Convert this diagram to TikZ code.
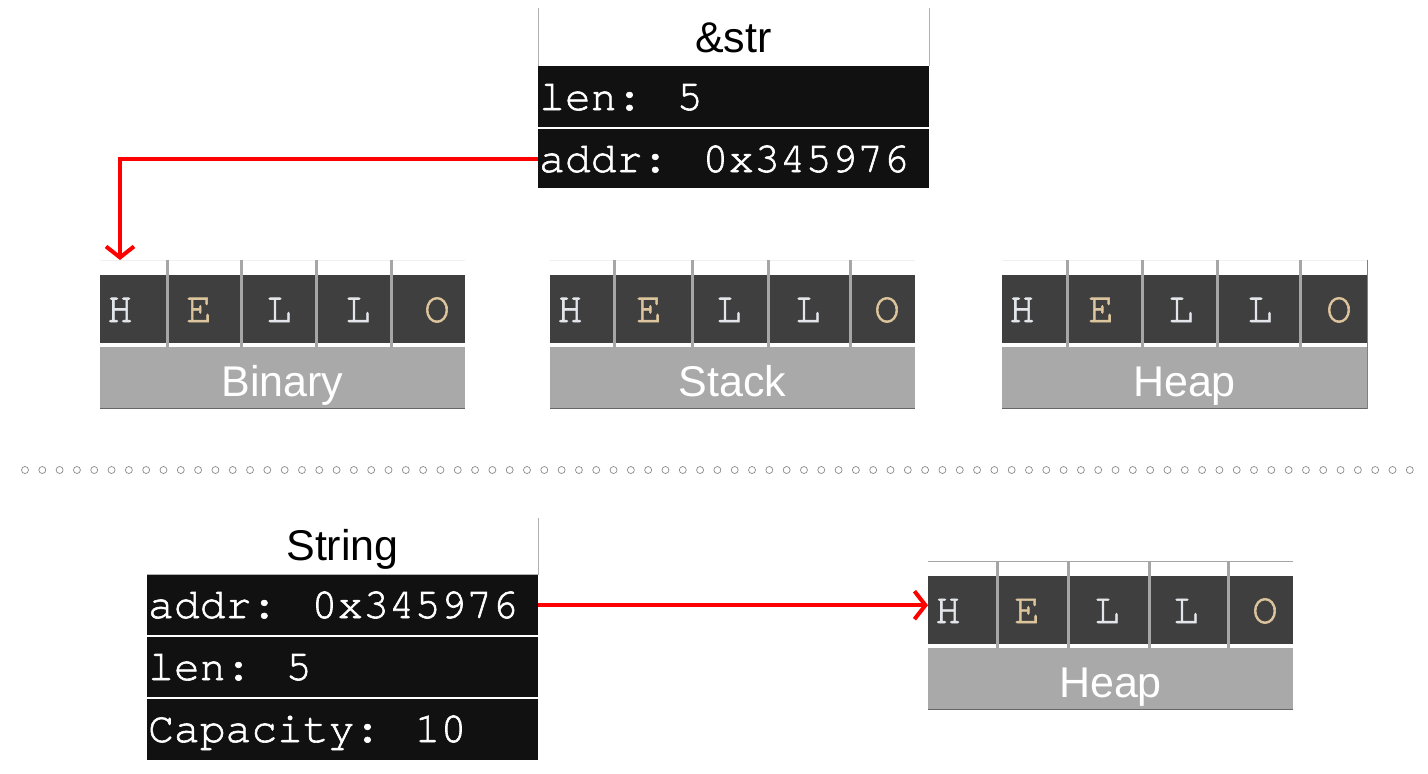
\documentclass[tikz,border=0pt]{standalone}
\usepackage{fontspec}
\setmainfont{Liberation Sans}
\newfontfamily\monofam[FakeBold=1.4]{TeX Gyre Cursor}
\usetikzlibrary{arrows.meta,calc}
\definecolor{rowbg}{HTML}{111111}
\definecolor{cellbg}{HTML}{3F3F3F}
\definecolor{labbg}{HTML}{A9A9A9}
\definecolor{sepc}{HTML}{A6A6A6}
\definecolor{lettw}{HTML}{E2E6EA}
\definecolor{lettt}{HTML}{DCC49C}
\definecolor{borderc}{HTML}{B0B0B0}
\definecolor{dotcol}{HTML}{8A8A8A}
\newcommand\hellogrp[9]{%
  \node[inner sep=0, minimum width=365pt, minimum height=149pt, anchor=north west] (#1) at (#2,#3) {};
  \fill[cellbg] (#2,#3+15) rectangle (#2+365,#3+83);
  \fill[labbg] (#2,#3+87) rectangle (#2+365,#3+149);
  \draw[#9, line width=1pt] (#2,#3+0.5) -- (#2+365,#3+0.5);
  \draw[botline] (#2,#3+148.5) -- (#2+365,#3+148.5);
  \foreach \s in {#5,#6,#7,#8} \draw[sepline] (#2+\s,#3) -- (#2+\s,#3+87);
  \node[letter, text=lettw] (#1-1) at (#2+20,#3+62) {H};
  \node[letter, text=lettt] (#1-2) at (#2+99,#3+62) {E};
  \node[letter, text=lettw] (#1-3) at (#2+179,#3+62) {L};
  \node[letter, text=lettw] (#1-4) at (#2+258,#3+62) {L};
  \node[letter, text=lettt] (#1-5) at (#2+337,#3+62) {O};
  \node[labtext] (#1-lab) at (#2+182.5,#3+136) {#4};
}
\begin{document}
\begin{tikzpicture}[x=1pt,y=-1pt,
  rowbox/.style={fill=rowbg, inner sep=0, minimum width=391pt, anchor=north west},
  rowtext/.style={text=white, font=\monofam\fontsize{43}{50}\selectfont, inner sep=0, anchor=base west},
  titletext/.style={font=\fontsize{43}{50}\selectfont, inner sep=0, anchor=base},
  letter/.style={font=\monofam\fontsize{43}{50}\selectfont, inner sep=0, anchor=base},
  labtext/.style={text=white, font=\fontsize{43}{50}\selectfont, inner sep=0, anchor=base},
  ptr/.style={red, line width=4pt, -{Straight Barb[length=11pt,width=28pt]}},
  border/.style={borderc, line width=1pt},
  sepline/.style={sepc, line width=3pt},
  botline/.style={black!60, line width=1.5pt},
  dotc/.style={dotcol, line width=0.7pt}]
\useasboundingbox (0,0) rectangle (1428,774);
\fill[white] (0,0) rectangle (1428,774);

% &str box
\node[inner sep=0, minimum width=391pt, minimum height=58pt, anchor=north west] (strT) at (538,8) {};
\node[titletext] (strTt) at (733.5,52) {\&str};
\draw[border] (strT.south west) -- (strT.north west);
\draw[border] (strT.north east) -- (strT.south east);
\node[rowbox, minimum height=61pt] (strLen) at (538,66) {};
\node[rowtext] (strLenT) at (539,110) {len: 5};
\node[rowbox, minimum height=59pt] (strAddr) at (538,129) {};
\node[rowtext] (strAddrT) at (539,172) {addr: 0x345976};

% HELLO groups
\hellogrp{bin}{100}{260}{Binary}{67}{141}{216}{291}{black!6}
\hellogrp{stk}{550}{260}{Stack}{64}{142}{218}{300}{black!6}
\hellogrp{hp}{1002}{260}{Heap}{65}{140}{215}{298}{black!6}
\draw[black!50, line width=1pt] (hp.north east) -- (hp.south east);

% dotted separator
\foreach \i in {0,...,80} \draw[dotc] ({25+\i*17.31},470) circle[radius=3.5pt];

% String box
\node[inner sep=0, minimum width=391pt, minimum height=56pt, anchor=north west] (sT) at (147,518) {};
\node[titletext] (sTt) at (342.5,560) {String};
\draw[border] (sT.north east) -- (sT.south east) -- (sT.south west);
\node[rowbox, minimum height=60pt] (sAddr) at (147,575) {};
\node[rowtext] (sAddrT) at (148,618) {addr: 0x345976};
\node[rowbox, minimum height=60pt] (sLen) at (147,637) {};
\node[rowtext] (sLenT) at (148,680) {len: 5};
\node[rowbox, minimum height=61pt] (sCap) at (147,699) {};
\node[rowtext] (sCapT) at (148,742) {Capacity: 10};

\hellogrp{hp2}{928}{561}{Heap}{69}{140}{221}{300}{black!35}

% pointers
\draw[ptr] (strAddr.west) -| (bin-1 |- bin.north);
\draw[ptr] (sAddr.east) -- (sAddr.east -| hp2.west);
\end{tikzpicture}
\end{document}
